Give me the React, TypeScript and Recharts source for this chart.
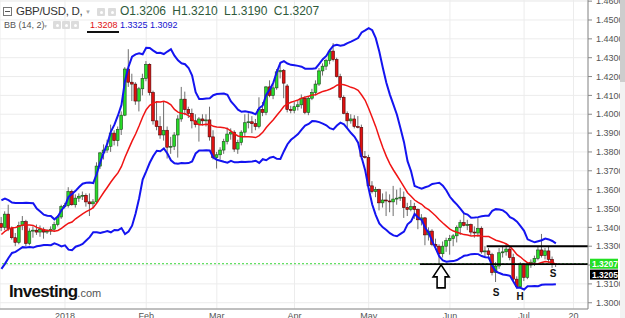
import React from "react";
import {
  ComposedChart,
  Bar,
  Line,
  XAxis,
  YAxis,
  CartesianGrid,
  ReferenceLine,
  ReferenceDot,
} from "recharts";

// GBP/USD daily, 6 Dec 2017 .. 13 Jul 2018 (one entry per weekday)
const opens = [
  1.3420, 1.3400, 1.3470, 1.3395, 1.3345, 1.3320, 1.3410, 1.3430, 1.3315, 1.3380,
  1.3385, 1.3375, 1.3390, 1.3375, 1.3380, 1.3390, 1.3415, 1.3455, 1.3510, 1.3515,
  1.3590, 1.3520, 1.3555, 1.3565, 1.3570, 1.3535, 1.3525, 1.3535, 1.3725, 1.3795,
  1.3810, 1.3830, 1.3900, 1.3860, 1.3920, 1.3995, 1.4240, 1.4170, 1.4160, 1.4070,
  1.4135, 1.4190, 1.4265, 1.4115, 1.3965, 1.3935, 1.3890, 1.3915, 1.3825, 1.3830,
  1.3890, 1.3975, 1.4080, 1.4025, 1.4005, 1.3965, 1.3945, 1.3975, 1.3965, 1.3970,
  1.3880, 1.3770, 1.3785, 1.3810, 1.3855, 1.3895, 1.3905, 1.3815, 1.3850, 1.3905,
  1.3955, 1.3960, 1.3950, 1.3935, 1.4025, 1.4010, 1.4145, 1.4100, 1.4140, 1.4225,
  1.4232, 1.4150, 1.4025, 1.4020, 1.4040, 1.4050, 1.4085, 1.4010, 1.4085, 1.4115,
  1.4160, 1.4230, 1.4255, 1.4285, 1.4335, 1.4290, 1.4200, 1.4090, 1.4005, 1.3965,
  1.3975, 1.3935, 1.3930, 1.3775, 1.3770, 1.3620, 1.3590, 1.3600, 1.3530, 1.3545,
  1.3540, 1.3535, 1.3550, 1.3555, 1.3560, 1.3505, 1.3495, 1.3510, 1.3495, 1.3440,
  1.3450, 1.3360, 1.3380, 1.3310, 1.3300, 1.3260, 1.3300, 1.3330, 1.3340, 1.3355,
  1.3400, 1.3425, 1.3410, 1.3415, 1.3375, 1.3370, 1.3395, 1.3270, 1.3275, 1.3255,
  1.3160, 1.3195, 1.3265, 1.3270, 1.3285, 1.3240, 1.3125, 1.3085, 1.3205, 1.3135,
  1.3200, 1.3215, 1.3235, 1.3280, 1.3250, 1.3275, 1.3230, 1.3206,
];
const highs = [
  1.3455, 1.3485, 1.3520, 1.3405, 1.3370, 1.3430, 1.3460, 1.3440, 1.3395, 1.3405,
  1.3415, 1.3410, 1.3400, 1.3390, 1.3405, 1.3430, 1.3465, 1.3520, 1.3530, 1.3613,
  1.3600, 1.3575, 1.3580, 1.3590, 1.3580, 1.3580, 1.3550, 1.3745, 1.3800, 1.3840,
  1.3865, 1.3945, 1.3915, 1.3935, 1.4015, 1.4250, 1.4345, 1.4215, 1.4170, 1.4145,
  1.4215, 1.4282, 1.4270, 1.4125, 1.4070, 1.3990, 1.4065, 1.3935, 1.3880, 1.3905,
  1.3995, 1.4145, 1.4120, 1.4040, 1.4030, 1.4000, 1.3985, 1.4000, 1.4000, 1.4040,
  1.3915, 1.3800, 1.3825, 1.3870, 1.3930, 1.3925, 1.3915, 1.3865, 1.3915, 1.4000,
  1.4005, 1.3990, 1.3975, 1.4090, 1.4065, 1.4150, 1.4180, 1.4160, 1.4240, 1.4260,
  1.4240, 1.4160, 1.4045, 1.4065, 1.4070, 1.4105, 1.4095, 1.4095, 1.4135, 1.4180,
  1.4245, 1.4270, 1.4295, 1.4345, 1.4377, 1.4300, 1.4215, 1.4100, 1.4015, 1.4000,
  1.3995, 1.3990, 1.3945, 1.3805, 1.3785, 1.3645, 1.3615, 1.3605, 1.3580, 1.3590,
  1.3575, 1.3620, 1.3600, 1.3610, 1.3590, 1.3530, 1.3545, 1.3530, 1.3500, 1.3470,
  1.3455, 1.3400, 1.3390, 1.3340, 1.3310, 1.3325, 1.3345, 1.3360, 1.3365, 1.3410,
  1.3440, 1.3472, 1.3440, 1.3420, 1.3405, 1.3450, 1.3405, 1.3300, 1.3290, 1.3265,
  1.3215, 1.3290, 1.3300, 1.3315, 1.3300, 1.3260, 1.3140, 1.3215, 1.3210, 1.3215,
  1.3230, 1.3250, 1.3300, 1.3365, 1.3290, 1.3300, 1.3245, 1.3210,
];
const lows = [
  1.3380, 1.3385, 1.3380, 1.3335, 1.3300, 1.3310, 1.3385, 1.3300, 1.3305, 1.3345,
  1.3360, 1.3350, 1.3340, 1.3365, 1.3360, 1.3375, 1.3405, 1.3445, 1.3500, 1.3505,
  1.3515, 1.3505, 1.3535, 1.3545, 1.3510, 1.3460, 1.3500, 1.3525, 1.3710, 1.3760,
  1.3795, 1.3800, 1.3835, 1.3830, 1.3890, 1.3990, 1.4145, 1.4070, 1.4050, 1.4015,
  1.4100, 1.4175, 1.4100, 1.3945, 1.3915, 1.3870, 1.3860, 1.3765, 1.3790, 1.3810,
  1.3770, 1.3960, 1.3995, 1.3980, 1.3925, 1.3930, 1.3855, 1.3940, 1.3935, 1.3860,
  1.3760, 1.3712, 1.3760, 1.3790, 1.3840, 1.3865, 1.3800, 1.3790, 1.3835, 1.3880,
  1.3925, 1.3900, 1.3915, 1.3925, 1.3990, 1.3995, 1.4090, 1.4080, 1.4130, 1.4190,
  1.4085, 1.4010, 1.4005, 1.4005, 1.4020, 1.4030, 1.4000, 1.3995, 1.4075, 1.4100,
  1.4150, 1.4205, 1.4235, 1.4265, 1.4280, 1.4195, 1.4075, 1.4000, 1.3925, 1.3950,
  1.3925, 1.3925, 1.3760, 1.3765, 1.3610, 1.3580, 1.3560, 1.3490, 1.3505, 1.3460,
  1.3480, 1.3460, 1.3520, 1.3540, 1.3450, 1.3460, 1.3485, 1.3445, 1.3390, 1.3410,
  1.3305, 1.3330, 1.3300, 1.3280, 1.3205, 1.3240, 1.3270, 1.3255, 1.3300, 1.3320,
  1.3360, 1.3405, 1.3385, 1.3360, 1.3345, 1.3350, 1.3260, 1.3240, 1.3230, 1.3145,
  1.3110, 1.3180, 1.3240, 1.3250, 1.3225, 1.3115, 1.3075, 1.3080, 1.3115, 1.3125,
  1.3185, 1.3195, 1.3225, 1.3240, 1.3230, 1.3210, 1.3185, 1.3190,
];
const closes = [
  1.3400, 1.3470, 1.3395, 1.3345, 1.3320, 1.3410, 1.3430, 1.3315, 1.3380, 1.3385,
  1.3375, 1.3390, 1.3375, 1.3380, 1.3390, 1.3415, 1.3455, 1.3510, 1.3515, 1.3590,
  1.3520, 1.3555, 1.3565, 1.3570, 1.3535, 1.3525, 1.3535, 1.3725, 1.3795, 1.3810,
  1.3830, 1.3900, 1.3860, 1.3920, 1.3995, 1.4240, 1.4170, 1.4160, 1.4070, 1.4135,
  1.4190, 1.4265, 1.4115, 1.3965, 1.3935, 1.3890, 1.3915, 1.3825, 1.3830, 1.3890,
  1.3975, 1.4080, 1.4025, 1.4005, 1.3965, 1.3945, 1.3975, 1.3965, 1.3970, 1.3880,
  1.3770, 1.3785, 1.3810, 1.3855, 1.3895, 1.3905, 1.3815, 1.3850, 1.3905, 1.3955,
  1.3960, 1.3950, 1.3935, 1.4025, 1.4010, 1.4145, 1.4100, 1.4140, 1.4225, 1.4232,
  1.4165, 1.4025, 1.4020, 1.4040, 1.4050, 1.4085, 1.4010, 1.4085, 1.4115, 1.4160,
  1.4230, 1.4255, 1.4285, 1.4335, 1.4290, 1.4200, 1.4090, 1.4005, 1.3965, 1.3975,
  1.3935, 1.3930, 1.3775, 1.3770, 1.3620, 1.3590, 1.3600, 1.3530, 1.3545, 1.3540,
  1.3535, 1.3550, 1.3555, 1.3560, 1.3505, 1.3495, 1.3510, 1.3495, 1.3440, 1.3450,
  1.3360, 1.3380, 1.3310, 1.3300, 1.3260, 1.3300, 1.3330, 1.3340, 1.3355, 1.3400,
  1.3425, 1.3410, 1.3415, 1.3375, 1.3370, 1.3395, 1.3270, 1.3275, 1.3255, 1.3160,
  1.3195, 1.3265, 1.3270, 1.3285, 1.3240, 1.3125, 1.3085, 1.3205, 1.3135, 1.3200,
  1.3215, 1.3235, 1.3280, 1.3250, 1.3275, 1.3230, 1.3206, 1.3207,
];
// closes of the 13 sessions before the first candle (BB warm-up)
const warmupCloses = [
  1.3225, 1.3235, 1.3245, 1.3300, 1.3325, 1.3335, 1.3320, 1.3365, 1.3420, 1.3525,
  1.3475, 1.3470, 1.3425,
];

const monthTicks = [18, 41, 61, 83, 104, 127, 148, 162];
const monthLabels = ["2018", "Feb", "Mar", "Apr", "May", "Jun", "Jul", "20"];
const priceTicks = [
  1.30, 1.31, 1.32, 1.33, 1.34, 1.35, 1.36, 1.37, 1.38, 1.39, 1.40, 1.41, 1.42,
  1.43, 1.44, 1.45, 1.46,
];
// tick hidden behind the price tags
const hiddenTick = 1.32;

const lastClose = 1.3207;
const resistance = 1.33;
const support = 1.3205;
const resistanceStart = 137.4;
const supportStart = 118.5;

const arrowAt = { i: 124.5, p: 1.3137 };
const patternMarks = [
  { i: 140.1, p: 1.3057, text: "S" },
  { i: 146.9, p: 1.3036, text: "H" },
  { i: 156.2, p: 1.3158, text: "S" },
];

const BB_PERIOD = 14;
const BB_MULT = 2;
const X_DOMAIN: [number, number] = [-0.4, 166.1];
const Y_DOMAIN: [number, number] = [1.29668, 1.46061];

// Bollinger bands (14, 2) from the closes
const allCloses = [...warmupCloses, ...closes];
const bands = closes.map((_, i) => {
  const end = i + warmupCloses.length;
  const win = allCloses.slice(end - BB_PERIOD + 1, end + 1);
  const mean = win.reduce((a, b) => a + b, 0) / win.length;
  const sd = Math.sqrt(win.reduce((a, b) => a + (b - mean) ** 2, 0) / win.length);
  return { mid: mean, upper: mean + BB_MULT * sd, lower: mean - BB_MULT * sd };
});

const rows = closes.map((c, i) => ({
  i,
  open: opens[i],
  high: highs[i],
  low: lows[i],
  close: c,
  range: [lows[i], highs[i]],
  ...bands[i],
}));

const FONT = "Arial, 'Liberation Sans', sans-serif";

function Candle(props: any) {
  const { x, y, width, height, payload } = props;
  if (x == null || y == null) return null;
  const top = Math.min(y, y + height);
  const h = Math.abs(height);
  const { open, close, high, low } = payload;
  const span = high - low;
  const py = (p: number) => (span === 0 ? top : top + ((high - p) / span) * h);
  const cx = x + width / 2;
  const up = close >= open;
  const bTop = py(Math.max(open, close));
  const bBot = py(Math.min(open, close));
  const bw = 2.8;
  return (
    <g>
      <line x1={cx} x2={cx} y1={top} y2={top + h} stroke="#6e6e6e" strokeWidth={1} />
      <rect
        x={cx - bw / 2}
        y={bTop}
        width={bw}
        height={Math.max(bBot - bTop, 0.8)}
        fill={up ? "#27dc27" : "#e01010"}
        stroke={up ? "#1d4a1d" : "#4a0505"}
        strokeWidth={0.6}
      />
    </g>
  );
}

function PriceTag(props: any) {
  const { viewBox, text, bg, dy } = props;
  if (!viewBox) return null;
  const { x, y, width } = viewBox;
  return (
    <g>
      <rect x={x + width + 2} y={y - 5 + dy} width={28} height={10} fill={bg} />
      <text
        x={x + width + 4}
        y={y + 3.2 + dy}
        fontSize={8.5}
        fontFamily={FONT}
        fill="#fff"
        fontWeight="bold"
      >
        {text}
      </text>
    </g>
  );
}

function UpArrow(props: any) {
  const { cx, cy } = props;
  if (cx == null) return null;
  const pts = [
    [cx, cy - 12],
    [cx + 8, cy],
    [cx + 4, cy],
    [cx + 4, cy + 11],
    [cx - 4, cy + 11],
    [cx - 4, cy],
    [cx - 8, cy],
  ]
    .map((p) => p.join(","))
    .join(" ");
  return <polygon points={pts} fill="#fff" stroke="#000" strokeWidth={1.6} />;
}

function Letter(text: string) {
  return (props: any) => {
    const { cx, cy } = props;
    if (cx == null) return null;
    return (
      <text
        x={cx}
        y={cy + 4}
        textAnchor="middle"
        fontSize={10}
        fontWeight="bold"
        fontFamily={FONT}
        fill="#111"
      >
        {text}
      </text>
    );
  };
}

function Icon({ left, top }: { left: number; top: number }) {
  return (
    <div
      style={{
        position: "absolute",
        left,
        top,
        width: 8,
        height: 8,
        background: "#dcdcdc",
        borderRadius: 1,
      }}
    >
      <div
        style={{
          position: "absolute",
          left: 2.5,
          top: 2.5,
          width: 3,
          height: 3,
          background: "#fff",
          borderRadius: 2,
        }}
      />
    </div>
  );
}

export default function App() {
  return (
    <div
      style={{
        position: "absolute",
        left: 0,
        top: 0,
        width: 625,
        height: 318,
        overflow: "hidden",
        background: "#fff",
        fontFamily: FONT,
      }}
    >
      <ComposedChart
        width={620}
        height={318}
        data={rows}
        margin={{ top: 0, right: 0, left: 0, bottom: 0 }}
      >
        <CartesianGrid stroke="#ececec" strokeWidth={1} />
        <XAxis
          dataKey="i"
          type="number"
          domain={X_DOMAIN}
          allowDataOverflow
          ticks={monthTicks}
          tickFormatter={(v: number) => monthLabels[monthTicks.indexOf(v)] ?? ""}
          height={9}
          tickSize={0}
          tickMargin={4}
          tickLine={false}
          axisLine={{ stroke: "#8a8a8a" }}
          tick={{ fontSize: 9, fill: "#555", fontFamily: FONT }}
          interval={0}
        />
        <YAxis
          orientation="right"
          type="number"
          domain={Y_DOMAIN}
          allowDataOverflow
          ticks={priceTicks}
          tickFormatter={(v: number) =>
            Math.abs(v - hiddenTick) < 1e-9 ? "" : v.toFixed(4)
          }
          width={32}
          tickSize={4}
          tickMargin={4}
          tickLine={{ stroke: "#8a8a8a" }}
          axisLine={{ stroke: "#8a8a8a" }}
          tick={{ fontSize: 9, fill: "#555", fontFamily: FONT, textAnchor: "start" }}
          interval={0}
        />
        <ReferenceLine
          y={lastClose}
          stroke="#3ad83a"
          strokeDasharray="2 2"
          label={(p: any) => <PriceTag {...p} text={lastClose.toFixed(4)} bg="#22e022" dy={0} />}
        />
        <ReferenceLine
          y={support}
          strokeOpacity={0}
          label={(p: any) => <PriceTag {...p} text={support.toFixed(4)} bg="#000" dy={10.5} />}
        />
        <Line
          dataKey="upper"
          stroke="#1414f0"
          strokeWidth={2}
          dot={false}
          activeDot={false}
          isAnimationActive={false}
        />
        <Line
          dataKey="lower"
          stroke="#1414f0"
          strokeWidth={2}
          dot={false}
          activeDot={false}
          isAnimationActive={false}
        />
        <Line
          dataKey="mid"
          stroke="#f01414"
          strokeWidth={1.5}
          dot={false}
          activeDot={false}
          isAnimationActive={false}
        />
        <Bar dataKey="range" barSize={3} shape={<Candle />} activeBar={false} isAnimationActive={false} />
        <ReferenceLine
          segment={[
            { x: supportStart, y: support },
            { x: X_DOMAIN[1], y: support },
          ]}
          stroke="#000"
          strokeWidth={1.6}
        />
        <ReferenceLine
          segment={[
            { x: resistanceStart, y: resistance },
            { x: X_DOMAIN[1], y: resistance },
          ]}
          stroke="#000"
          strokeWidth={2}
        />
        <ReferenceDot x={arrowAt.i} y={arrowAt.p} r={0} shape={UpArrow} />
        {patternMarks.map((m, k) => (
          <ReferenceDot key={k} x={m.i} y={m.p} r={0} shape={Letter(m.text)} />
        ))}
      </ComposedChart>

      {/* legend rows */}
      <div
        style={{
          position: "absolute",
          left: 3,
          top: 7,
          width: 9,
          height: 9,
          border: "1px solid #777",
          boxSizing: "border-box",
          background: "#fff",
        }}
      >
        <div style={{ position: "absolute", left: 1, top: 3, width: 5, height: 1, background: "#555" }} />
      </div>
      <div
        style={{
          position: "absolute",
          left: 16,
          top: 5,
          fontSize: 11.5,
          letterSpacing: -0.3,
          color: "#333",
          whiteSpace: "nowrap",
        }}
      >
        GBP/USD, D,
      </div>
      <div style={{ position: "absolute", left: 85, top: 9, fontSize: 6, color: "#aaa" }}>▼</div>
      <Icon left={97} top={8} />
      <Icon left={108} top={8} />
      <div
        style={{
          position: "absolute",
          left: 120,
          top: 4,
          fontSize: 12,
          color: "#2f5a3b",
          whiteSpace: "nowrap",
          wordSpacing: 3,
        }}
      >
        O1.3206 H1.3210 L1.3190 C1.3207
      </div>
      <div style={{ position: "absolute", left: 4, top: 20, fontSize: 9, color: "#555", whiteSpace: "nowrap" }}>
        BB (14, 2)
      </div>
      <div style={{ position: "absolute", left: 43, top: 23, fontSize: 5, color: "#aaa" }}>▼</div>
      <Icon left={53} top={21} />
      <Icon left={62} top={21} />
      <Icon left={71} top={21} />
      <div style={{ position: "absolute", left: 90, top: 20, fontSize: 9, color: "#e01010" }}>1.3208</div>
      <div style={{ position: "absolute", left: 120, top: 20, fontSize: 9, color: "#1414d0" }}>1.3325</div>
      <div style={{ position: "absolute", left: 150, top: 20, fontSize: 9, color: "#1414d0" }}>1.3092</div>
      <div style={{ position: "absolute", left: 87, top: 31, width: 32, height: 2, background: "#111" }} />

      {/* logo */}
      <div
        style={{
          position: "absolute",
          left: 9,
          top: 282,
          whiteSpace: "nowrap",
          color: "#111",
        }}
      >
        <span style={{ fontSize: 17, fontWeight: "bold", letterSpacing: -0.7 }}>Investing</span>
        <span style={{ fontSize: 11, color: "#555" }}>.com</span>
      </div>

      {/* scrollbar */}
      <div style={{ position: "absolute", left: 620, top: 0, width: 5, height: 318, background: "#f2f2f2" }} />
      <div style={{ position: "absolute", left: 620, top: 0, width: 5, height: 82, background: "#cdcdcd" }} />
    </div>
  );
}
